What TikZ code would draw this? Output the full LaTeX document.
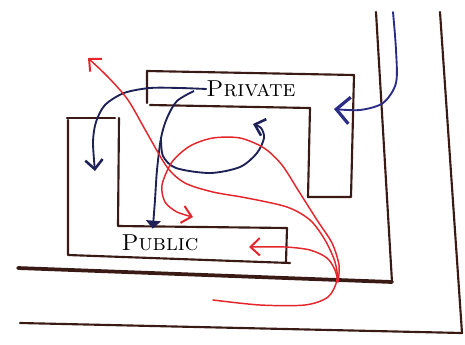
\documentclass[tikz,border=0pt]{standalone}
\usepackage{tikz}
\usetikzlibrary{arrows.meta}

\definecolor{ink}{HTML}{3A1A14}
\definecolor{redpen}{HTML}{E3262B}
\definecolor{bluepen}{HTML}{1E2058}
\definecolor{bluepenlight}{HTML}{2A2C86}

\begin{document}
\begin{tikzpicture}[x=0.75pt, y=-0.75pt,
    wall/.style={draw=ink, line width=1.6pt, line join=round, line cap=round},
    heavywall/.style={wall, line width=2.8pt},
    redflow/.style={draw=redpen, line width=1.1pt, line cap=round,
        -{Straight Barb[length=7pt, width=13pt, line width=1.5pt]}},
    blueflow/.style={draw=bluepen, line width=1.4pt, line cap=round,
        -{Straight Barb[length=7pt, width=13pt, line width=1.9pt]}},
    roomlabel/.style={font=\LARGE\scshape, text=black, inner sep=0pt},
]
\useasboundingbox (0,0) rectangle (465,344);

% outer walls
\draw[wall] (376,12) -- (392,282);
\draw[heavywall] (18,268) -- (392,282);
\draw[wall] (440,12) -- (462,333) -- (20,323);

% private room
\draw[wall] (150,105) -- (310,108) -- (308,197) -- (351,197) -- (354,75) -- (147,71) -- (147,103);
\node[roomlabel] (private) at (251,89) {Private};

% public room
\draw[wall] (67,118) -- (115,118);
\draw[wall] (119,118) -- (118,226) -- (287,228) -- (286,262);
\draw[wall] (68,120) -- (68,255) -- (290,263);
\node[roomlabel] (public) at (160,243) {Public};

% named points
\coordinate (blueIn) at (393,12);
\coordinate (split) at (194,91);
\coordinate (branch) at (161,138);
\coordinate (redIn) at (213,300);
\coordinate (redTurn) at (338,282);

% blue flows
\draw[blueflow, draw=bluepenlight, -{Straight Barb[length=10pt, width=20pt, line width=2.4pt]}]
    plot[smooth] coordinates {(blueIn) (396,50) (396,83) (383,103) (360,110) (334,109)};
\draw[blueflow] plot[smooth] coordinates {(private.west) (180,88) (150,88) (124,93) (105,105) (96,122) (93,142) (95,171)};
\draw[draw=bluepen, line width=1.4pt, -{Triangle[length=6pt, width=11pt]}, shorten >=-2pt]
    plot[smooth] coordinates {(split) (177,101) (167,118) (branch) (157,170) (155,200) (153,226)};
\draw[blueflow] plot[smooth] coordinates {(branch) (163,156) (176,168) (210,173) (240,167) (257,153) (264,138) (261,128) (253,124)};

% red flows
\draw[redflow] plot[smooth] coordinates {(redIn) (260,305) (305,305) (328,297) (337,280) (335,262) (325,240) (310,220) (287,207) (247,198) (213,192) (185,183) (167,167) (147,133) (128,100) (108,77) (88,58)};
\draw[redflow] plot[smooth] coordinates {(redTurn) (335,270) (327,258) (310,250) (285,247) (249,247)};
\draw[redflow] plot[smooth] coordinates {(redTurn) (339,265) (332,243) (317,220) (298,190) (282,165) (264,148) (240,138) (213,138) (190,146) (172,162) (162,185) (165,202) (177,212) (193,217)};
\end{tikzpicture}
\end{document}
